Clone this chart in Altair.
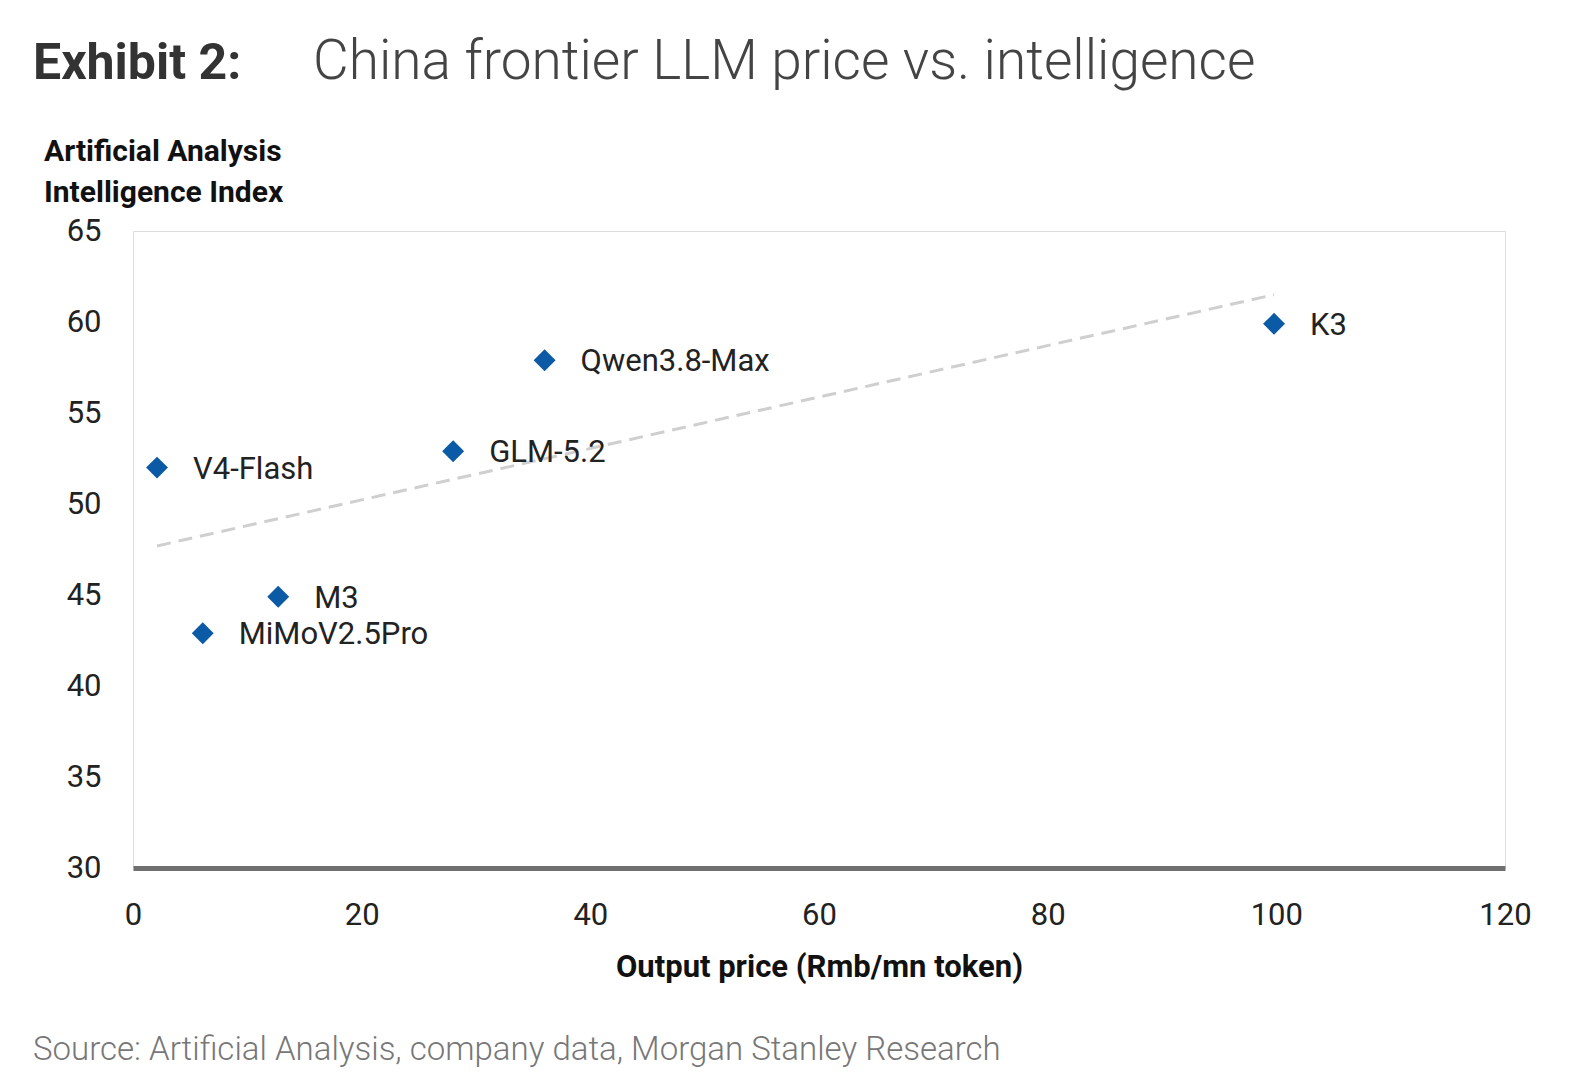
import altair as alt
import pandas as pd

models = ["V4-Flash", "MiMoV2.5Pro", "M3", "GLM-5.2", "Qwen3.8-Max", "K3"]
price = [2.1, 6.1, 12.7, 28.0, 36.0, 99.8]
intel = [52.0, 42.9, 44.9, 52.9, 57.9, 59.9]

df = pd.DataFrame({"model": models, "price": price, "intel": intel})

FONT = "Roboto"
xs = alt.Scale(domain=[0, 120], nice=False)
ys = alt.Scale(domain=[30, 65], nice=False)

base = alt.Chart(df)

trend = base.transform_regression("price", "intel").mark_line(
    color="#cfcfcf", strokeWidth=3, strokeDash=[14, 8]
).encode(
    x=alt.X("price:Q", scale=xs,
            axis=alt.Axis(values=[0, 20, 40, 60, 80, 100, 120], ticks=False, grid=False,
                          domainColor="#707070", domainWidth=5, labelFontSize=31,
                          labelColor="#222", labelPadding=32, labelFont=FONT, labelFlush=False,
                          title="Output price (Rmb/mn token)", titleFontSize=31,
                          titleFont=FONT, titleFontWeight="bold", titleColor="#111",
                          titlePadding=22)),
    y=alt.Y("intel:Q", scale=ys,
            axis=alt.Axis(values=[30, 35, 40, 45, 50, 55, 60, 65], ticks=False, grid=False,
                          domain=False, labelFontSize=31, labelColor="#222",
                          labelPadding=32, labelFont=FONT, title=None)),
)

pts = base.mark_point(shape="diamond", filled=True, size=480, color="#0b5aa6", opacity=1).encode(
    x=alt.X("price:Q", scale=xs), y=alt.Y("intel:Q", scale=ys))

labels = base.mark_text(align="left", dx=36, dy=2, fontSize=31, font=FONT, color="#222").encode(
    x=alt.X("price:Q", scale=xs), y=alt.Y("intel:Q", scale=ys), text="model:N")

def txt(s, x, y, size, weight="normal", color="#222"):
    return alt.Chart(pd.DataFrame({"t": [s]})).mark_text(
        align="left", baseline="alphabetic", fontSize=size, fontWeight=weight,
        font=FONT, color=color).encode(x=alt.value(x), y=alt.value(y), text="t:N")

header = [
    txt("Exhibit 2:", -100, -152, 50, "bold", "#333"),
    txt("China frontier LLM price vs. intelligence", 180, -152, 55, 300, "#444"),
    txt("Artificial Analysis", -89, -70, 30, "bold", "#111"),
    txt("Intelligence Index", -89, -29, 30, "bold", "#111"),
    txt("Source: Artificial Analysis, company data, Morgan Stanley Research", -100, 829, 33, 300, "#777"),
]

chart = alt.layer(trend, pts, labels, *header).properties(
    width=1372, height=637,
    autosize=alt.AutoSizeParams(type="none"),
    padding={"left": 125, "top": 223, "right": 50, "bottom": 220},
).configure_view(stroke=None, strokeWidth=0).configure(background="white")

chart.save("out.html", embed_options={"renderer": "svg", "actions": False})
